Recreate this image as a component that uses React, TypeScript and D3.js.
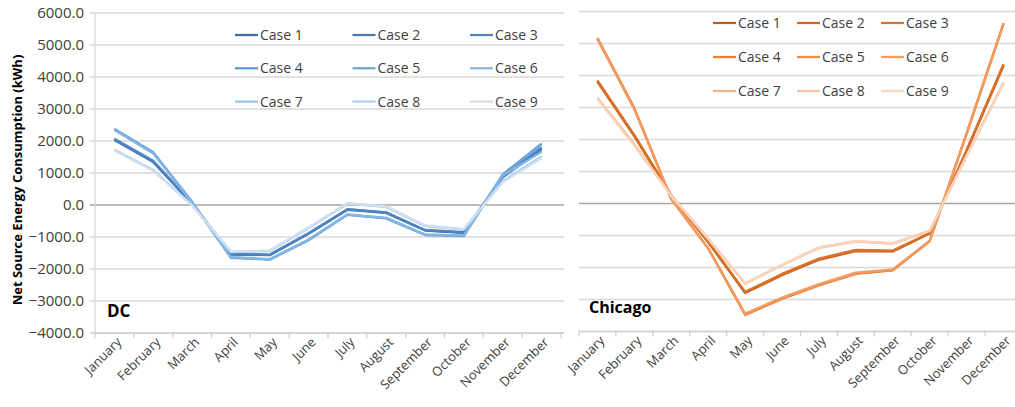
import * as d3 from "d3";

const months = [
  "January", "February", "March", "April", "May", "June",
  "July", "August", "September", "October", "November", "December",
];

const yTicks = [6000, 5000, 4000, 3000, 2000, 1000, 0, -1000, -2000, -3000, -4000];

const caseNames = ["Case 1", "Case 2", "Case 3", "Case 4", "Case 5", "Case 6", "Case 7", "Case 8", "Case 9"];

// DC, net source energy (kWh) per month, one row per case
const dcSeries = [
  [2050, 1360, 50, -1540, -1560, -890, -140, -240, -790, -860, 880, 1760],
  [2030, 1340, 40, -1550, -1570, -900, -150, -250, -800, -870, 870, 1720],
  [2070, 1380, 60, -1530, -1550, -880, -130, -230, -780, -850, 900, 1800],
  [2380, 1650, 100, -1640, -1700, -1090, -300, -410, -930, -960, 960, 1920],
  [2360, 1630, 90, -1650, -1710, -1100, -310, -420, -940, -970, 940, 1900],
  [2340, 1610, 80, -1630, -1690, -1080, -290, -400, -920, -950, 920, 1660],
  [1730, 1090, 0, -1460, -1430, -710, 50, -50, -650, -760, 740, 1520],
  [1720, 1080, -10, -1470, -1440, -720, 40, -60, -660, -770, 730, 1500],
  [1700, 1070, -20, -1450, -1420, -700, 60, -40, -640, -750, 710, 1460],
];

// Chicago, net source energy (kWh) per month, one row per case
const chicagoSeries = [
  [3820, 2120, 250, -1200, -2780, -2220, -1740, -1470, -1490, -930, 1650, 4320],
  [3800, 2100, 240, -1210, -2800, -2240, -1760, -1490, -1500, -940, 1640, 4300],
  [3850, 2140, 260, -1190, -2760, -2200, -1720, -1450, -1470, -920, 1670, 4360],
  [5170, 2980, 150, -1400, -3480, -2980, -2560, -2200, -2090, -1180, 2200, 5640],
  [5150, 2960, 140, -1410, -3460, -2960, -2540, -2180, -2080, -1170, 2180, 5620],
  [5130, 2940, 130, -1390, -3440, -2940, -2520, -2160, -2060, -1160, 2160, 5600],
  [3300, 1850, 250, -1100, -2500, -1920, -1380, -1180, -1250, -850, 1500, 3780],
  [3280, 1830, 240, -1110, -2510, -1930, -1390, -1190, -1260, -860, 1490, 3760],
  [3260, 1810, 230, -1090, -2490, -1910, -1370, -1170, -1240, -840, 1480, 3740],
];

const dcColors = ["#3e6ea6", "#4679b3", "#4f85c2", "#5b9bd5", "#6aa5dc", "#86b6e2", "#9dc3e6", "#b4d0ec", "#cfe0f2"];
const chicagoColors = ["#c55a11", "#d0661f", "#da712b", "#ed7d31", "#ef8c4a", "#f19c62", "#f4b183", "#f7c4a3", "#f9d5bf"];

const font = "'Open Sans', 'Noto Sans', sans-serif";
const textColor = "#404040";

type PanelProps = {
  series: number[][];
  colors: string[];
  x0: number;
  x1: number;
  yTop: number;
  yBottom: number;
  showYAxis: boolean;
  title: string;
  titleSize: number;
  titleX: number;
  titleY: number;
  legendX: number;
  legendY: number;
  legendColW: number;
  legendRowH: number;
};

function Panel(p: PanelProps) {
  const x = d3.scaleBand<string>().domain(months).range([p.x0, p.x1]);
  const y = d3.scaleLinear().domain([-4000, 6000]).range([p.yBottom, p.yTop]);
  const cx = (m: string) => (x(m) ?? 0) + x.bandwidth() / 2;
  const line = d3
    .line<number>()
    .x((_, i) => cx(months[i]))
    .y((v) => y(v));
  const gridStart = p.showYAxis ? p.x0 - 5 : p.x0;
  const gridEnd = p.showYAxis ? p.x1 + 3 : p.x1;
  const boundaries = [...months.map((m) => x(m) ?? 0), p.x1];

  return (
    <g>
      {yTicks.map((t) => (
        <line
          key={t}
          x1={gridStart}
          x2={gridEnd}
          y1={y(t)}
          y2={y(t)}
          stroke={t === 0 ? "#a6a6a6" : "#d9d9d9"}
          strokeWidth={1.3}
        />
      ))}
      {p.showYAxis && (
        <line x1={p.x0} x2={p.x0} y1={y(6000)} y2={y(-4000)} stroke="#d9d9d9" strokeWidth={1.3} />
      )}
      {p.showYAxis &&
        yTicks.map((t) => (
          <text
            key={"l" + t}
            x={p.x0 - 11}
            y={y(t) + 5}
            textAnchor="end"
            fontFamily={font}
            fontSize={15}
            fill={textColor}
          >
            {d3.format(".1f")(t)}
          </text>
        ))}
      <line x1={gridStart} x2={gridEnd} y1={y(-4000)} y2={y(-4000)} stroke="#d0d0d0" strokeWidth={1.3} />
      {boundaries.map((b, i) => (
        <line key={"t" + i} x1={b} x2={b} y1={y(-4000)} y2={y(-4000) + 5} stroke="#d0d0d0" strokeWidth={1.3} />
      ))}
      {months.map((m) => (
        <text
          key={m}
          transform={`translate(${cx(m) + 8},${y(-4000) + 10}) rotate(-45)`}
          textAnchor="end"
          fontFamily={font}
          fontSize={13}
          fill={textColor}
        >
          {m}
        </text>
      ))}
      {p.series.map((s, i) => (
        <path
          key={"s" + i}
          d={line(s) ?? ""}
          fill="none"
          stroke={p.colors[i]}
          strokeWidth={2.25}
          strokeLinejoin="round"
        />
      ))}
      <text x={p.titleX} y={p.titleY} fontFamily={font} fontSize={p.titleSize} fontWeight="bold" fill="#000">
        {p.title}
      </text>
      {caseNames.map((c, i) => {
        const lx = p.legendX + (i % 3) * p.legendColW;
        const ly = p.legendY + Math.floor(i / 3) * p.legendRowH;
        return (
          <g key={c}>
            <line x1={lx} x2={lx + 23} y1={ly} y2={ly} stroke={p.colors[i]} strokeWidth={2.25} />
            <text x={lx + 25} y={ly + 5} fontFamily={font} fontSize={14} fill={textColor}>
              {c}
            </text>
          </g>
        );
      })}
    </g>
  );
}

export default function App() {
  return (
    <svg
      width={1015}
      height={407}
      style={{ position: "absolute", left: 0, top: 0, background: "#fff" }}
    >
      <text
        transform="translate(22,180) rotate(-90)"
        textAnchor="middle"
        fontFamily={font}
        fontSize={13}
        fontWeight="bold"
        fill="#000"
      >
        Net Source Energy Consumption (kWh)
      </text>
      <Panel
        series={dcSeries}
        colors={dcColors}
        x0={95}
        x1={561}
        yTop={13}
        yBottom={333}
        showYAxis={true}
        title="DC"
        titleSize={17}
        titleX={107}
        titleY={317}
        legendX={235}
        legendY={35}
        legendColW={117.5}
        legendRowH={33.3}
      />
      <Panel
        series={chicagoSeries}
        colors={chicagoColors}
        x0={579}
        x1={1022}
        yTop={11.5}
        yBottom={331.5}
        showYAxis={false}
        title="Chicago"
        titleSize={16}
        titleX={589}
        titleY={313}
        legendX={713}
        legendY={23}
        legendColW={84}
        legendRowH={34}
      />
    </svg>
  );
}
